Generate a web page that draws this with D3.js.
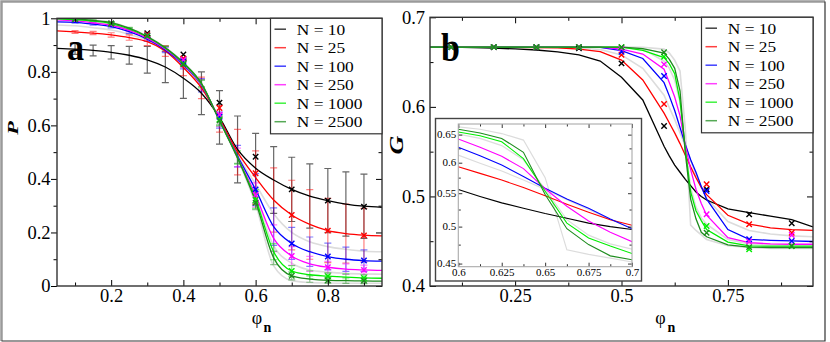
<!DOCTYPE html>
<html>
<head>
<meta charset="utf-8">
<script src="https://cdn.jsdelivr.net/npm/d3@7"></script>
<style>
  body { margin: 0; background: #fff; }
</style>
</head>
<body>
<svg id="chart" width="830" height="342"></svg>
<script>
// ---- series names / colours
const seriesNames = ["N = 10", "N = 25", "N = 100", "N = 250", "N = 1000", "N = 2500"];
const seriesColors = ["#000000", "#ff0000", "#0000ff", "#ff00ff", "#00ee00", "#1e8c1e"];
const face = "'Liberation Serif', 'Liberation Sans', 'DejaVu Sans', sans-serif";

// ---- panel a : P vs phi_n
const phiA = [0.05, 0.1, 0.15, 0.2, 0.25, 0.3, 0.35, 0.4, 0.45, 0.5, 0.55, 0.6, 0.65, 0.7, 0.75, 0.8, 0.85, 0.9, 0.95];
const pN10   = [0.888, 0.885, 0.880, 0.873, 0.862, 0.845, 0.818, 0.776, 0.720, 0.630, 0.510, 0.440, 0.396, 0.361, 0.336, 0.319, 0.306, 0.298, 0.294];
const pN25   = [0.953, 0.949, 0.945, 0.938, 0.928, 0.913, 0.878, 0.816, 0.740, 0.625, 0.500, 0.405, 0.321, 0.265, 0.230, 0.207, 0.196, 0.190, 0.187];
const pN100  = [0.987, 0.985, 0.978, 0.969, 0.950, 0.922, 0.882, 0.826, 0.750, 0.620, 0.485, 0.360, 0.222, 0.159, 0.128, 0.110, 0.100, 0.095, 0.093];
const pN250  = [0.994, 0.990, 0.983, 0.974, 0.955, 0.926, 0.885, 0.829, 0.752, 0.620, 0.480, 0.340, 0.178, 0.112, 0.083, 0.070, 0.063, 0.060, 0.058];
const pN1000 = [0.998, 0.995, 0.990, 0.980, 0.960, 0.930, 0.888, 0.832, 0.755, 0.618, 0.480, 0.325, 0.128, 0.056, 0.042, 0.037, 0.033, 0.030, 0.029];
const pN2500 = [1.000, 0.998, 0.992, 0.984, 0.963, 0.932, 0.890, 0.834, 0.757, 0.617, 0.478, 0.315, 0.105, 0.038, 0.026, 0.021, 0.020, 0.019, 0.018];
// light grey runs (other system sizes)
const pGrey50   = [0.975, 0.972, 0.965, 0.956, 0.940, 0.918, 0.880, 0.820, 0.745, 0.622, 0.490, 0.380, 0.270, 0.200, 0.165, 0.147, 0.137, 0.130, 0.128];
const pGrey500  = [0.996, 0.993, 0.987, 0.977, 0.958, 0.928, 0.887, 0.830, 0.753, 0.619, 0.480, 0.332, 0.150, 0.085, 0.060, 0.052, 0.047, 0.045, 0.044];
const pGrey5000 = [1.000, 0.999, 0.993, 0.985, 0.964, 0.933, 0.891, 0.835, 0.758, 0.616, 0.476, 0.305, 0.075, 0.020, 0.013, 0.011, 0.010, 0.010, 0.010];

// error bars (half widths) at phi = 0.1 ... 0.9
const phiErr = [0.1, 0.15, 0.2, 0.25, 0.3, 0.35, 0.4, 0.45, 0.5, 0.55, 0.6, 0.65, 0.7, 0.75, 0.8, 0.85, 0.9];
const errN10   = [0.020, 0.020, 0.025, 0.033, 0.050, 0.058, 0.075, 0.080, 0.100, 0.125, 0.130, 0.125, 0.120, 0.120, 0.120, 0.120, 0.120];
const errN25   = [0.005, 0.006, 0.008, 0.010, 0.015, 0.020, 0.030, 0.040, 0.050, 0.085, 0.100, 0.120, 0.130, 0.130, 0.120, 0.110, 0.100];
const errN100  = [0.003, 0.004, 0.005, 0.006, 0.008, 0.010, 0.015, 0.025, 0.030, 0.040, 0.060, 0.070, 0.060, 0.055, 0.050, 0.045, 0.040];
const errN250  = [0.002, 0.003, 0.004, 0.005, 0.006, 0.008, 0.012, 0.020, 0.025, 0.035, 0.045, 0.050, 0.035, 0.028, 0.022, 0.020, 0.018];
const errN1000 = [0.002, 0.002, 0.003, 0.004, 0.005, 0.007, 0.010, 0.015, 0.020, 0.025, 0.035, 0.030, 0.020, 0.015, 0.012, 0.012, 0.012];
const errN2500 = [0.001, 0.002, 0.002, 0.003, 0.004, 0.006, 0.008, 0.012, 0.015, 0.020, 0.030, 0.025, 0.015, 0.012, 0.010, 0.010, 0.010];

// crosses at phi = 0.1 ... 0.9
const phiMark = [0.1, 0.2, 0.3, 0.4, 0.5, 0.6, 0.7, 0.8, 0.9];
const pmN10   = [0.997, 0.980, 0.944, 0.865, 0.685, 0.483, 0.361, 0.319, 0.296];
const pmN25   = [0.997, 0.980, 0.940, 0.850, 0.665, 0.421, 0.265, 0.207, 0.189];
const pmN100  = [0.997, 0.980, 0.936, 0.838, 0.632, 0.361, 0.159, 0.110, 0.095];
const pmN250  = [0.997, 0.980, 0.936, 0.845, 0.640, 0.340, 0.112, 0.070, 0.060];
const pmN1000 = [0.997, 0.980, 0.935, 0.830, 0.622, 0.321, 0.056, 0.037, 0.030];
const pmN2500 = [0.997, 0.980, 0.935, 0.828, 0.618, 0.311, 0.038, 0.021, 0.020];

// ---- panel b : G vs phi_n
const phiB = [0.05, 0.1, 0.15, 0.2, 0.25, 0.3, 0.35, 0.4, 0.45, 0.5, 0.55, 0.6, 0.6125, 0.625, 0.6375, 0.65, 0.6625, 0.675, 0.6875, 0.7, 0.75, 0.8, 0.85, 0.9, 0.95];
const gN10   = [0.6667, 0.6666, 0.6662, 0.6655, 0.6647, 0.6635, 0.6614, 0.6580, 0.6512, 0.6330, 0.6077, 0.5560, 0.5450, 0.5350, 0.5270, 0.5190, 0.5120, 0.5050, 0.5000, 0.4960, 0.4860, 0.4819, 0.4780, 0.4740, 0.4660];
const gN25   = [0.6667, 0.6667, 0.6667, 0.6666, 0.6665, 0.6663, 0.6660, 0.6645, 0.6616, 0.6523, 0.6300, 0.5930, 0.5820, 0.5710, 0.5590, 0.5460, 0.5330, 0.5210, 0.5100, 0.5020, 0.4790, 0.4690, 0.4650, 0.4630, 0.4620];
const gN100  = [0.6667, 0.6667, 0.6667, 0.6667, 0.6667, 0.6667, 0.6667, 0.6666, 0.6665, 0.6627, 0.6540, 0.6270, 0.6120, 0.5960, 0.5770, 0.5580, 0.5410, 0.5270, 0.5110, 0.4970, 0.4630, 0.4520, 0.4510, 0.4503, 0.4497];
const gN250  = [0.6667, 0.6667, 0.6667, 0.6667, 0.6667, 0.6667, 0.6667, 0.6667, 0.6667, 0.6645, 0.6590, 0.6420, 0.6270, 0.6110, 0.5900, 0.5570, 0.5300, 0.5080, 0.4920, 0.4790, 0.4540, 0.4485, 0.4470, 0.4466, 0.4466];
const gN1000 = [0.6667, 0.6667, 0.6667, 0.6667, 0.6667, 0.6667, 0.6667, 0.6667, 0.6667, 0.6667, 0.6630, 0.6550, 0.6480, 0.6370, 0.6070, 0.5530, 0.5050, 0.4840, 0.4730, 0.4630, 0.4490, 0.4447, 0.4445, 0.4445, 0.4445];
const gN2500 = [0.6667, 0.6667, 0.6667, 0.6667, 0.6667, 0.6667, 0.6667, 0.6667, 0.6667, 0.6667, 0.6650, 0.6600, 0.6530, 0.6430, 0.6180, 0.5480, 0.4970, 0.4750, 0.4600, 0.4550, 0.4460, 0.4434, 0.4430, 0.4430, 0.4430];
const gGrey50   = [0.6667, 0.6667, 0.6667, 0.6667, 0.6667, 0.6666, 0.6664, 0.6658, 0.6640, 0.6580, 0.6430, 0.6130, 0.5990, 0.5860, 0.5710, 0.5560, 0.5400, 0.5250, 0.5100, 0.4980, 0.4720, 0.4620, 0.4580, 0.4560, 0.4550];
const gGrey500  = [0.6667, 0.6667, 0.6667, 0.6667, 0.6667, 0.6667, 0.6667, 0.6667, 0.6667, 0.6667, 0.6647, 0.6510, 0.6430, 0.6300, 0.6050, 0.5560, 0.5100, 0.4880, 0.4760, 0.4690, 0.4520, 0.4470, 0.4460, 0.4460, 0.4460];
const gGrey5000 = [0.6667, 0.6667, 0.6667, 0.6667, 0.6667, 0.6667, 0.6667, 0.6667, 0.6667, 0.6667, 0.6665, 0.6645, 0.6600, 0.6520, 0.6400, 0.5750, 0.4680, 0.4620, 0.4570, 0.4520, 0.4450, 0.4430, 0.4420, 0.4420, 0.4420];

const gmN10   = [0.6667, 0.6667, 0.6667, 0.6655, 0.6486, 0.5786, 0.5080, 0.4800, 0.4700];
const gmN25   = [0.6667, 0.6667, 0.6667, 0.6667, 0.6580, 0.6032, 0.5136, 0.4689, 0.4595];
const gmN100  = [0.6667, 0.6667, 0.6667, 0.6667, 0.6616, 0.6345, 0.5060, 0.4522, 0.4503];
const gmN250  = [0.6667, 0.6667, 0.6667, 0.6667, 0.6650, 0.6475, 0.4801, 0.4497, 0.4570];
const gmN1000 = [0.6667, 0.6667, 0.6667, 0.6667, 0.6665, 0.6560, 0.4670, 0.4410, 0.4447];
const gmN2500 = [0.6667, 0.6667, 0.6667, 0.6667, 0.6667, 0.6610, 0.4595, 0.4434, 0.4447];

// ---- tick values
const xTicksA = [0.2, 0.4, 0.6, 0.8], xMinorA = [0.1, 0.3, 0.5, 0.7, 0.9];
const yTicksA = [0, 0.2, 0.4, 0.6, 0.8, 1], yMinorA = [0.1, 0.3, 0.5, 0.7, 0.9];
const xTicksB = [0.25, 0.5, 0.75], xMinorB = [0.125, 0.375, 0.625, 0.875];
const yTicksB = [0.4, 0.5, 0.6, 0.7], yMinorB = [0.45, 0.55, 0.65];
const xTicksI = [0.6, 0.625, 0.65, 0.675, 0.7], xMinorI = [0.6125, 0.6375, 0.6625, 0.6875];
const yTicksI = [0.45, 0.5, 0.55, 0.6, 0.65], yMinorI = [0.475, 0.525, 0.575, 0.625];

const pCurves = [pN10, pN25, pN100, pN250, pN1000, pN2500];
const pErrs = [errN10, errN25, errN100, errN250, errN1000, errN2500];
const pMarks = [pmN10, pmN25, pmN100, pmN250, pmN1000, pmN2500];
const gCurves = [gN10, gN25, gN100, gN250, gN1000, gN2500];
const gMarks = [gmN10, gmN25, gmN100, gmN250, gmN1000, gmN2500];
const greyColor = "#dcdcdc";

const svg = d3.select("#chart");

// outer frame of the figure
svg.append("path").attr("d", "M1.5,341 V1.5 H825").attr("fill", "none").attr("stroke", "#9a9a9a").attr("stroke-width", 2.5);
svg.append("path").attr("d", "M1.5,341 H825 V1.5").attr("fill", "none").attr("stroke", "#333").attr("stroke-width", 1.2);

const cross = r => `M${-r},${-r}L${r},${r}M${-r},${r}L${r},${-r}`;

function label(g, txt, size) {
  return g.append("text").style("font-family", face).style("font-size", size + "px").attr("fill", "#000").text(txt);
}

// stretch text horizontally, keeping its anchor point
function stretch(sel, k) {
  sel.each(function () {
    const t = d3.select(this);
    const x = +t.attr("x") || 0;
    t.attr("x", x / k).attr("transform", `scale(${k},1)`);
  });
}

// ticks on the four sides of a frame
function drawAxes(g, x, y, o) {
  const [xl, xr] = x.range(), [yb, yt] = y.range();
  const clean = s => { s.select(".domain").remove(); s.selectAll("line").attr("stroke", "#000").attr("stroke-width", o.tw); };
  const style = s => s.selectAll("text").style("font-size", o.fs + "px").style("font-family", face).attr("fill", "#000");
  const blank = () => "";

  const b = g.append("g").attr("transform", `translate(0,${yb})`)
    .call(d3.axisBottom(x).tickValues(o.xMajor).tickFormat(o.xFmt).tickSizeInner(-o.tl).tickSizeOuter(0).tickPadding(o.xPad))
    .call(clean).call(style);
  g.append("g").attr("transform", `translate(0,${yb})`)
    .call(d3.axisBottom(x).tickValues(o.xMinor).tickFormat(blank).tickSizeInner(-o.tm).tickSizeOuter(0)).call(clean);
  g.append("g").attr("transform", `translate(0,${yt})`)
    .call(d3.axisTop(x).tickValues(o.xMajor).tickFormat(blank).tickSizeInner(-o.tl).tickSizeOuter(0)).call(clean);
  g.append("g").attr("transform", `translate(0,${yt})`)
    .call(d3.axisTop(x).tickValues(o.xMinor).tickFormat(blank).tickSizeInner(-o.tm).tickSizeOuter(0)).call(clean);

  const lOut = o.leftOut ? 1 : -1;
  const l = g.append("g").attr("transform", `translate(${xl},0)`)
    .call(d3.axisLeft(y).tickValues(o.yMajor).tickFormat(o.yFmt).tickSizeInner(lOut * o.tl).tickSizeOuter(0).tickPadding(o.yPad))
    .call(clean).call(style);
  g.append("g").attr("transform", `translate(${xl},0)`)
    .call(d3.axisLeft(y).tickValues(o.yMinor).tickFormat(blank).tickSizeInner(lOut * o.tm).tickSizeOuter(0)).call(clean);
  g.append("g").attr("transform", `translate(${xr},0)`)
    .call(d3.axisRight(y).tickValues(o.yMajor).tickFormat(blank).tickSizeInner(-o.tl).tickSizeOuter(0)).call(clean);
  g.append("g").attr("transform", `translate(${xr},0)`)
    .call(d3.axisRight(y).tickValues(o.yMinor).tickFormat(blank).tickSizeInner(-o.tm).tickSizeOuter(0)).call(clean);

  if (o.stretch) { stretch(b.selectAll("text"), o.stretch); stretch(l.selectAll("text"), o.stretch); }

  g.append("rect").attr("x", xl).attr("y", yt).attr("width", xr - xl).attr("height", yb - yt)
    .attr("fill", "none").attr("stroke", o.frame).attr("stroke-width", o.fw);
}

function drawLegend(g, right, top) {
  const w = 111.5, left = right - w;
  g.append("rect").attr("x", left).attr("y", top).attr("width", w).attr("height", 115.5)
    .attr("fill", "#fff").attr("stroke", "#333").attr("stroke-width", 1.2);
  seriesNames.forEach((name, i) => {
    const base = top + 16.4 + i * 18.5;
    g.append("line").attr("x1", left + 4).attr("x2", left + 15.5).attr("y1", base - 5.5).attr("y2", base - 5.5)
      .attr("stroke", seriesColors[i]).attr("stroke-width", 1.5).attr("stroke-opacity", 0.75);
    label(g, name, 15.5).attr("x", (left + 26.3) / 1.12).attr("y", base).attr("transform", "scale(1.12,1)");
  });
}

// ================= panel a =================
const xA = d3.scaleLinear().domain([0.05, 0.95]).range([57, 382]);
const yA = d3.scaleLinear().domain([0, 1]).range([286, 18.3]);
const gA = svg.append("g");
gA.append("clipPath").attr("id", "clipA").append("rect")
  .attr("x", 57).attr("y", 18.3).attr("width", 325).attr("height", 267.7);
const plotA = gA.append("g").attr("clip-path", "url(#clipA)");
const lineA = d3.line().x(d => xA(d[0])).y(d => yA(d[1])).curve(d3.curveMonotoneX);

[pGrey50, pGrey500, pGrey5000].forEach(arr => {
  plotA.append("path").datum(phiA.map((p, i) => [p, arr[i]]))
    .attr("d", lineA).attr("fill", "none").attr("stroke", greyColor).attr("stroke-width", 1.6);
});

// error bars
pCurves.forEach((curve, s) => {
  const pts = phiErr.map((p, i) => ({ x: p, y: curve[phiA.indexOf(p)], e: pErrs[s][i] }));
  const eg = plotA.append("g").attr("stroke", seriesColors[s]).attr("stroke-opacity", s === 0 ? 0.6 : 0.5).attr("stroke-width", 1.2);
  eg.selectAll("path").data(pts).enter().append("path")
    .attr("d", d => {
      const cx = xA(d.x), t = yA(d.y + d.e), b = yA(d.y - d.e);
      return `M${cx},${t}V${b}M${cx - 3.5},${t}H${cx + 3.5}M${cx - 3.5},${b}H${cx + 3.5}`;
    })
    .attr("fill", "none");
});

pCurves.forEach((curve, s) => {
  plotA.append("path").datum(phiA.map((p, i) => [p, curve[i]]))
    .attr("d", lineA).attr("fill", "none").attr("stroke", seriesColors[s]).attr("stroke-width", 1.3);
});

pMarks.forEach((marks, s) => {
  plotA.selectAll(null).data(phiMark.map((p, i) => [p, marks[i]])).enter().append("path")
    .attr("transform", d => `translate(${xA(d[0])},${yA(d[1])})`)
    .attr("d", cross(2.7)).attr("stroke", seriesColors[s]).attr("stroke-width", 1.4).attr("fill", "none");
});

drawAxes(gA, xA, yA, {
  xMajor: xTicksA, xMinor: xMinorA, yMajor: yTicksA, yMinor: yMinorA,
  xFmt: d => String(d), yFmt: d => String(d), tl: 6, tm: 3.5, tw: 1, fs: 18.5,
  xPad: 3, yPad: 0.5, leftOut: true, frame: "#333", fw: 1.4
});
drawLegend(gA, 382, 18.3);

label(gA, "a", 38).attr("x", 67 / 0.9).attr("y", 60).attr("transform", "scale(0.9,1)").style("font-weight", "bold");
label(gA, "P", 14).attr("transform", "translate(18.3,128) rotate(-90) scale(1.6,1)")
  .attr("text-anchor", "middle").style("font-weight", "bold").style("font-style", "italic");
label(gA, "φ", 18).attr("x", 257).attr("y", 323.5).attr("text-anchor", "middle");
label(gA, "n", 14).attr("x", 263.5).attr("y", 332).style("font-weight", "bold");

// ================= panel b =================
const xB = d3.scaleLinear().domain([0.05, 0.95]).range([430, 813]);
const yB = d3.scaleLinear().domain([0.4, 0.7]).range([286, 17.3]);
const gB = svg.append("g");
gB.append("clipPath").attr("id", "clipB").append("rect")
  .attr("x", 430).attr("y", 17.3).attr("width", 383).attr("height", 268.7);
const plotB = gB.append("g").attr("clip-path", "url(#clipB)");
const lineB = d3.line().x(d => xB(d[0])).y(d => yB(d[1]));

[gGrey50, gGrey500, gGrey5000].forEach(arr => {
  plotB.append("path").datum(phiB.map((p, i) => [p, arr[i]]))
    .attr("d", lineB).attr("fill", "none").attr("stroke", greyColor).attr("stroke-width", 1.6);
});
gCurves.forEach((curve, s) => {
  plotB.append("path").datum(phiB.map((p, i) => [p, curve[i]]))
    .attr("d", lineB).attr("fill", "none").attr("stroke", seriesColors[s]).attr("stroke-width", 1.3);
});
gMarks.forEach((marks, s) => {
  plotB.selectAll(null).data(phiMark.map((p, i) => [p, marks[i]])).enter().append("path")
    .attr("transform", d => `translate(${xB(d[0])},${yB(d[1])})`)
    .attr("d", cross(2.7)).attr("stroke", seriesColors[s]).attr("stroke-width", 1.4).attr("fill", "none");
});

drawAxes(gB, xB, yB, {
  xMajor: xTicksB, xMinor: xMinorB, yMajor: yTicksB, yMinor: yMinorB,
  xFmt: d => String(d), yFmt: d => String(d), tl: 6, tm: 3.5, tw: 1, fs: 18.5,
  xPad: 3, yPad: 5, leftOut: false, frame: "#333", fw: 1.4
});
drawLegend(gB, 813, 17.3);

label(gB, "b", 40).attr("x", 441 / 0.85).attr("y", 61.5).attr("transform", "scale(0.85,1)").style("font-weight", "bold");
label(gB, "G", 18).attr("transform", "translate(403,145) rotate(-90) scale(1.45,1)")
  .attr("text-anchor", "middle").style("font-weight", "bold").style("font-style", "italic");
label(gB, "φ", 18).attr("x", 660.5).attr("y", 323.5).attr("text-anchor", "middle");
label(gB, "n", 14).attr("x", 667.5).attr("y", 332).style("font-weight", "bold");

// ================= inset (log G axis) =================
const xI = d3.scaleLinear().domain([0.6, 0.7]).range([458.3, 632]);
const yI = d3.scaleLog().domain([0.446, 0.67]).range([266.7, 124]);
const gI = gB.append("g");
gI.append("rect").attr("x", 435.5).attr("y", 118.5).attr("width", 206).attr("height", 162.5)
  .attr("fill", "#fff").attr("stroke", "#444").attr("stroke-width", 1.4);
gI.append("clipPath").attr("id", "clipI").append("rect")
  .attr("x", 458.3).attr("y", 124).attr("width", 173.7).attr("height", 142.7);
const plotI = gI.append("g").attr("clip-path", "url(#clipI)");
const lineI = d3.line().x(d => xI(d[0])).y(d => yI(d[1]));

[gGrey50, gGrey500, gGrey5000].forEach(arr => {
  plotI.append("path").datum(phiB.map((p, i) => [p, arr[i]]))
    .attr("d", lineI).attr("fill", "none").attr("stroke", greyColor).attr("stroke-width", 1.2);
});
gCurves.forEach((curve, s) => {
  plotI.append("path").datum(phiB.map((p, i) => [p, curve[i]]))
    .attr("d", lineI).attr("fill", "none").attr("stroke", seriesColors[s]).attr("stroke-width", 1.1);
});

drawAxes(gI, xI, yI, {
  xMajor: xTicksI, xMinor: xMinorI, yMajor: yTicksI, yMinor: yMinorI,
  xFmt: d => String(d), yFmt: d => String(d), tl: 4, tm: 2.5, tw: 0.8, fs: 10,
  xPad: 2.5, yPad: 2, leftOut: false, frame: "#aaa", fw: 1.1, stretch: 1.1
});
</script>
</body>
</html>
